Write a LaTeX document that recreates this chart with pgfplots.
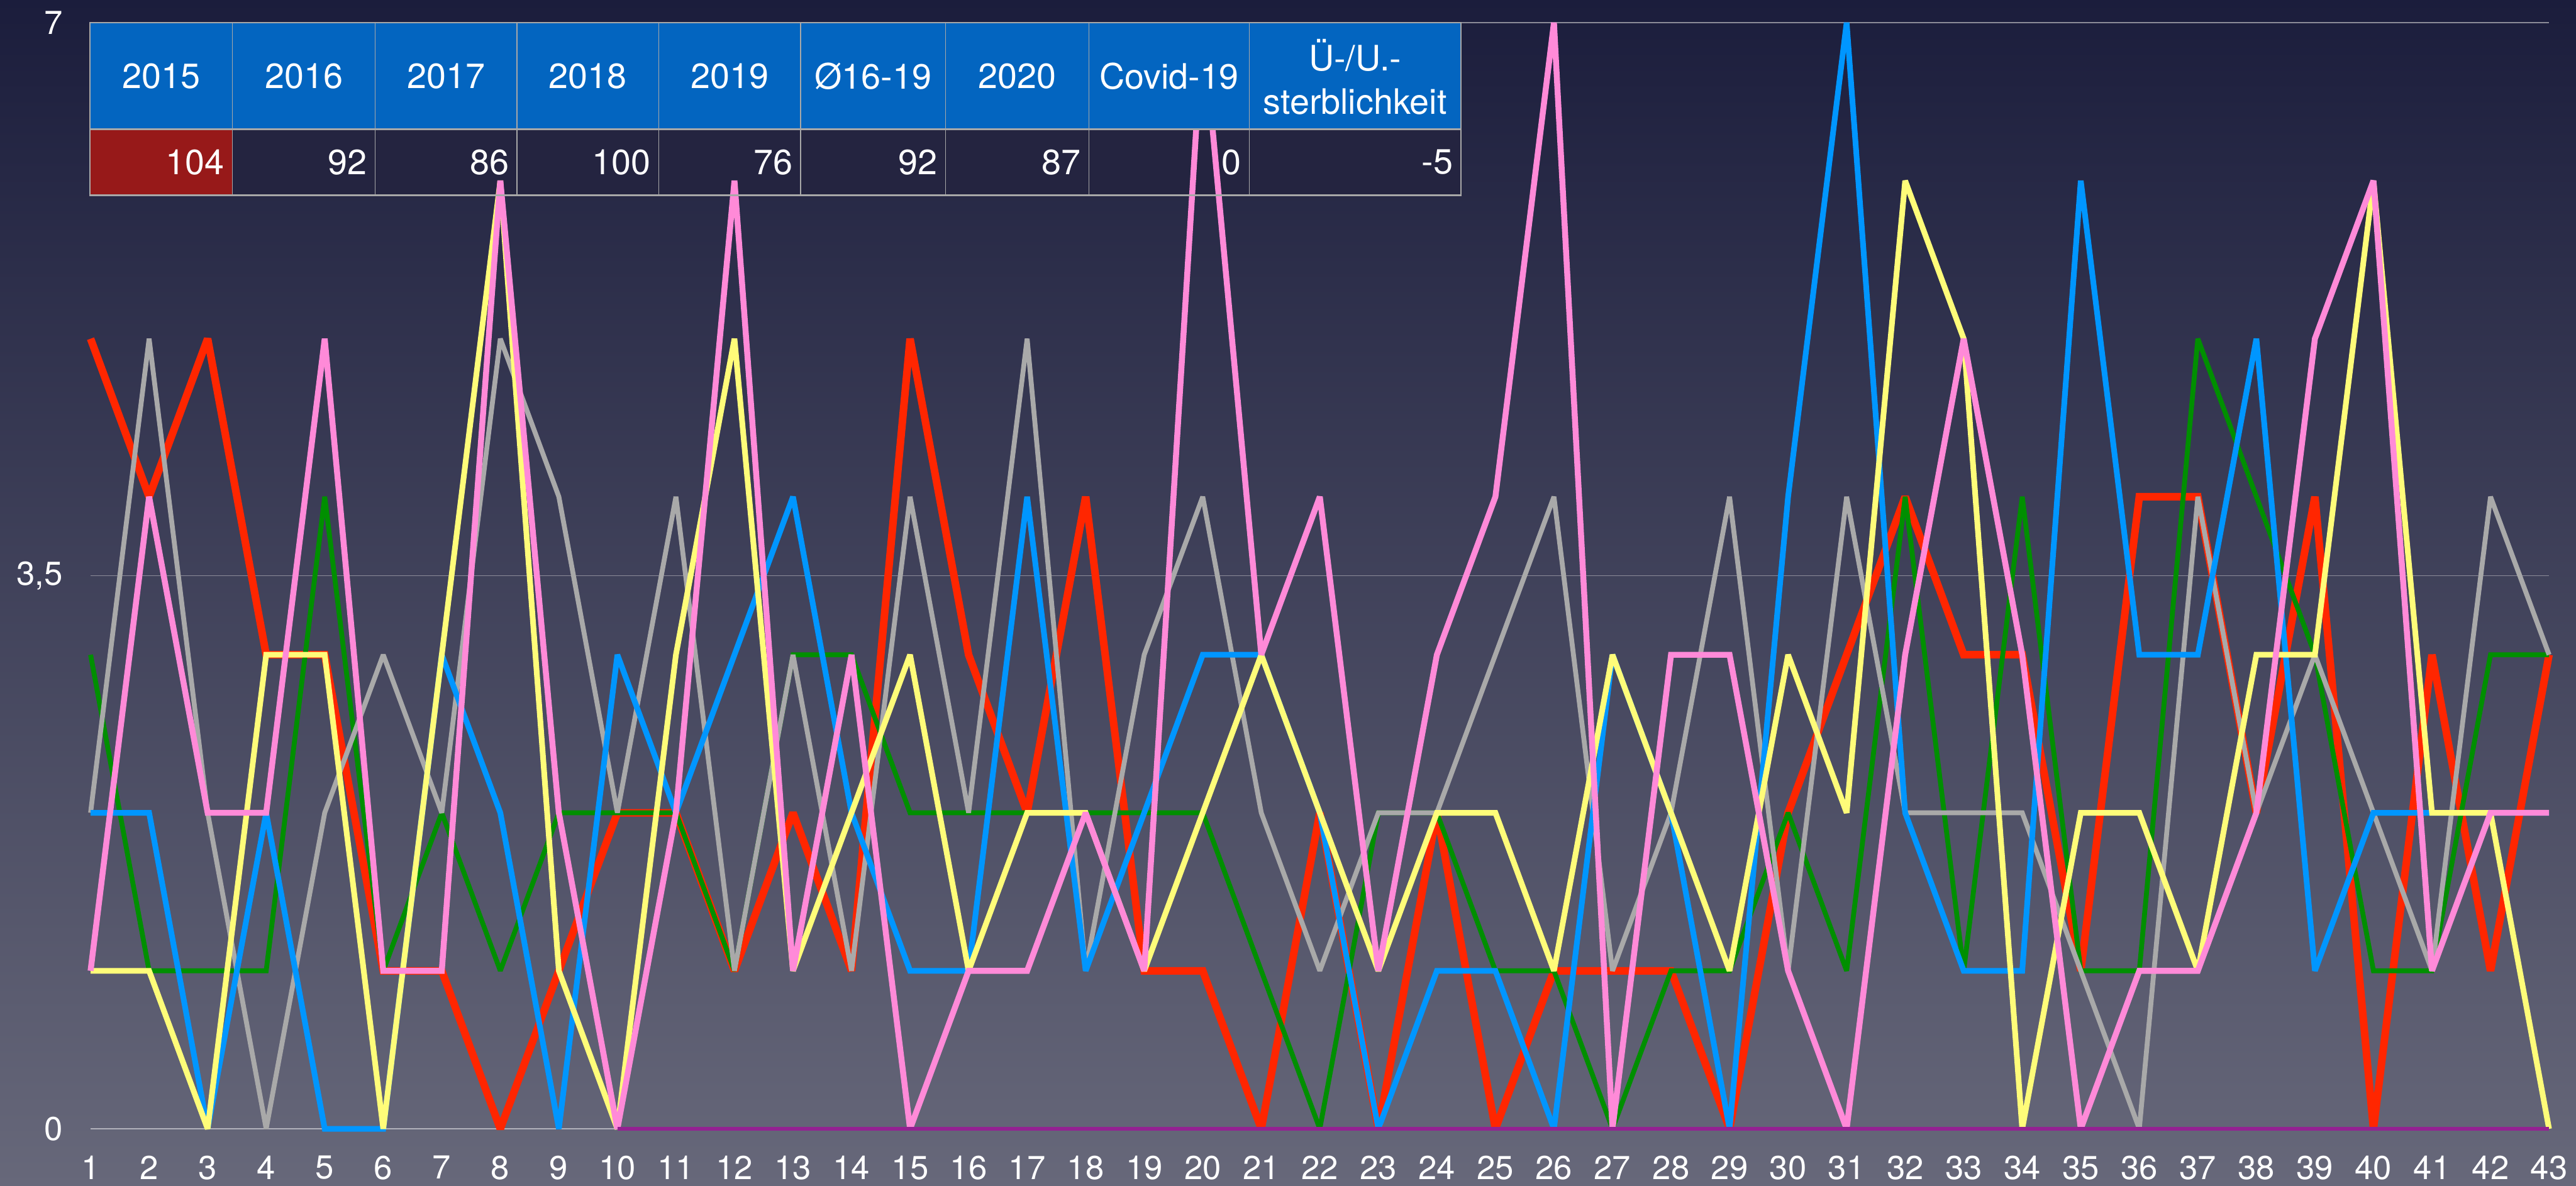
\documentclass[border=0pt]{standalone}
\usepackage{pgfplots}
\usepackage{pgfplotstable}
\pgfplotsset{compat=1.18}
\usepackage{fontspec}
\setmainfont{TeX Gyre Heros}
\definecolor{cRed}{RGB}{255,38,0}
\definecolor{cGreen}{RGB}{0,143,0}
\definecolor{cBlue}{RGB}{0,150,255}
\definecolor{cYellow}{RGB}{255,252,121}
\definecolor{cPink}{RGB}{255,138,216}
\definecolor{cGray}{RGB}{169,169,169}
\definecolor{cPurple}{RGB}{148,33,146}
\definecolor{bgTop}{RGB}{27,29,60}
\definecolor{bgBot}{RGB}{103,104,122}
\definecolor{hdr}{RGB}{3,101,192}
\definecolor{cellc}{RGB}{36,36,64}
\definecolor{redcell}{RGB}{151,25,25}
\definecolor{tline}{RGB}{168,168,168}
\definecolor{gridc}{RGB}{140,140,152}
\definecolor{zeroc}{RGB}{178,178,188}

\pgfplotstableread{
w r g k b y p
1 5 3 2 2 1 1
2 4 1 5 2 1 4
3 5 1 2 0 0 2
4 3 1 0 2 3 2
5 3 4 2 0 3 5
6 1 1 3 0 0 1
7 1 2 2 3 3 1
8 0 1 5 2 6 6
9 1 2 4 0 1 2
10 2 2 2 3 0 0
11 2 2 4 2 3 2
12 1 1 1 3 5 6
13 2 3 3 4 1 1
14 1 3 1 2 2 3
15 5 2 4 1 3 0
16 3 2 2 1 1 1
17 2 2 5 4 2 1
18 4 2 1 1 2 2
19 1 2 3 2 1 1
20 1 2 4 3 2 7
21 0 1 2 3 3 3
22 2 0 1 2 2 4
23 0 2 2 0 1 1
24 2 2 2 1 2 3
25 0 1 3 1 2 4
26 1 1 4 0 1 7
27 1 0 1 3 3 0
28 1 1 2 2 2 3
29 0 1 4 0 1 3
30 2 2 1 4 3 1
31 3 1 4 7 2 0
32 4 4 2 2 6 3
33 3 1 2 1 5 5
34 3 4 2 1 0 3
35 1 1 1 6 2 0
36 4 1 0 3 2 1
37 4 5 4 3 1 1
38 2 4 2 5 3 2
39 4 3 3 1 3 5
40 0 1 2 2 6 6
41 3 1 1 2 2 1
42 1 3 4 2 2 2
43 3 3 3 2 0 2
}\data

\pgfplotstableread{
w c
10 0
11 0
12 0
13 0
14 0
15 0
16 0
17 0
18 0
19 0
20 0
21 0
22 0
23 0
24 0
25 0
26 0
27 0
28 0
29 0
30 0
31 0
32 0
33 0
34 0
35 0
36 0
37 0
38 0
39 0
40 0
41 0
42 0
43 0
}\covid

\begin{document}
\begin{tikzpicture}
% background
\fill[top color=bgTop, bottom color=bgBot] (0pt,0pt) rectangle (955.6pt,439.8pt);
% value row fills (under the lines)
\fill[redcell] (33.4pt,367.4pt) rectangle (86.2pt,391.8pt);
\fill[cellc] (86.2pt,367.4pt) rectangle (542pt,391.8pt);

\begin{axis}[
  at={(33.6pt,21pt)}, anchor=south west,
  width=912pt, height=410.4pt, scale only axis,
  xmin=1, xmax=43, ymin=0, ymax=7,
  axis line style={draw=none},
  major tick length=0pt,
  xtick={1,...,43},
  ytick={3.5,7}, yticklabels={{3,5},7},
  extra y ticks={0}, extra y tick labels={0},
  extra y tick style={grid style={color=zeroc, line width=0.6pt}},
  ymajorgrids,
  grid style={color=gridc, line width=0.25pt},
  ticklabel style={font=\fontsize{12.3}{14}\selectfont, text=white},
  xticklabel style={yshift=-6.4pt},
  yticklabel style={xshift=-6.8pt},
  /pgf/number format/assume math mode=true,
  clip=false,
  every axis plot/.append style={line join=miter, miter limit=2},
]
\addplot[cRed, line width=2.8pt] table[x=w,y=r]{\data};
\addplot[cGreen, line width=1.8pt] table[x=w,y=g]{\data};
\addplot[cGray, line width=1.8pt] table[x=w,y=k]{\data};
\addplot[cBlue, line width=2.1pt] table[x=w,y=b]{\data};
\addplot[cYellow, line width=2.1pt] table[x=w,y=y]{\data};
\addplot[cPink, line width=2.2pt] table[x=w,y=p]{\data};
\addplot[cPurple, line width=1.4pt] table[x=w,y=c]{\covid};
\end{axis}

% table header (over the lines)
\fill[hdr] (33.4pt,391.8pt) rectangle (542pt,431.4pt);
\foreach \xa in {86.2,139.2,191.8,244.4,297.0,350.8,404.0,463.4}
  \draw[tline, line width=0.3pt] (\xa pt,367.4pt) -- (\xa pt,431.4pt);
\draw[tline, line width=0.6pt] (33.4pt,367.4pt) rectangle (542pt,431.4pt);
\draw[tline, line width=0.6pt] (33.4pt,391.8pt) -- (542pt,391.8pt);

\begin{scope}[every node/.style={text=white, font=\fontsize{13}{16}\selectfont, inner sep=0pt}]
\node at (59.8pt,411.6pt) {2015};
\node at (112.7pt,411.6pt) {2016};
\node at (165.5pt,411.6pt) {2017};
\node at (218.1pt,411.6pt) {2018};
\node at (270.7pt,411.6pt) {2019};
\node at (323.9pt,411.6pt) {Ø16-19};
\node at (377.4pt,411.6pt) {2020};
\node at (433.7pt,411.6pt) {Covid-19};
\node[align=center] at (502.7pt,411.2pt) {Ü-/U.-\\sterblichkeit};
\node[anchor=east] at (83.4pt,379.6pt) {104};
\node[anchor=east] at (136.4pt,379.6pt) {92};
\node[anchor=east] at (189.0pt,379.6pt) {86};
\node[anchor=east] at (241.6pt,379.6pt) {100};
\node[anchor=east] at (294.2pt,379.6pt) {76};
\node[anchor=east] at (348.0pt,379.6pt) {92};
\node[anchor=east] at (401.2pt,379.6pt) {87};
\node[anchor=east] at (460.6pt,379.6pt) {0};
\node[anchor=east] at (539.2pt,379.6pt) {-5};
\end{scope}

\pgfresetboundingbox
\useasboundingbox (0pt,0pt) rectangle (955.6pt,439.8pt);
\end{tikzpicture}
\end{document}
